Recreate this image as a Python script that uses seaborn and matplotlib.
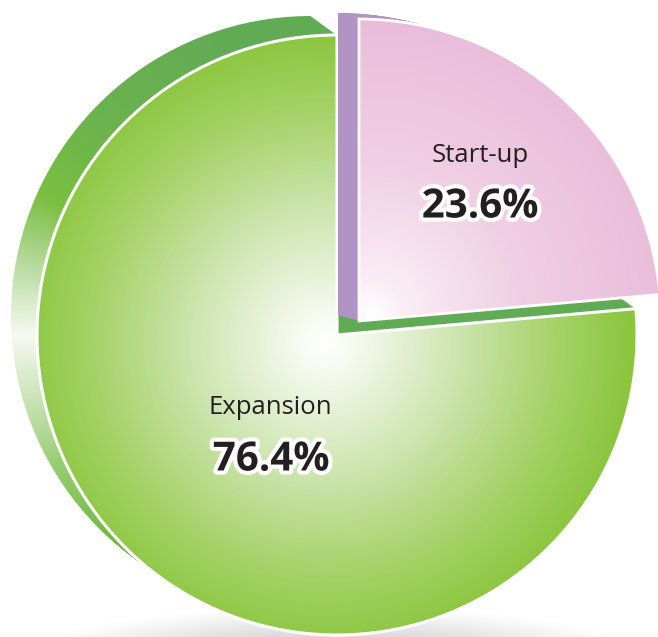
import numpy as np
import matplotlib
matplotlib.use("Agg")
import matplotlib.pyplot as plt
import seaborn as sns
from matplotlib import patheffects as pe

# ---- data ----
categories = ["Start-up", "Expansion"]
shares = [23.6, 76.4]
pct_labels = ["23.6%", "76.4%"]

# ---- style ----
sns.set_theme(style="white")
plt.rcParams['font.family'] = ['Open Sans', 'DejaVu Sans']

W, H = 658, 637
fig = plt.figure(figsize=(W / 100, H / 100), dpi=100)
ax = fig.add_axes([0, 0, 1, 1])
fig.patch.set_facecolor("white")

R = 300          # expansion radius
R_S = 302        # start-up radius
cx, cy = 337, H - 335
start_shift = (22, 14)   # pulled-out start-up slice
green_off = (-26, 19)
purple_off = (-21, 6)
STEPS = 24

xx, yy = np.meshgrid(np.arange(W) + 0.5, np.arange(H) + 0.5)


def interp_rgb(vals, stops, colors):
    c = np.array(colors, float) / 255.0
    return np.stack([np.interp(vals, stops, c[:, k]) for k in range(3)], axis=-1)


def pie_at(center, radius):
    wedges, *_ = ax.pie(shares, startangle=90, counterclock=False, radius=radius,
                        center=center,
                        wedgeprops=dict(linewidth=0, facecolor="none"))
    return wedges


def clipped_image(img, clip, z):
    im = ax.imshow(img, extent=(0, W, 0, H), origin="lower",
                   interpolation="bilinear", zorder=z)
    im.set_clip_path(clip)
    return im


# ---- soft floor shadow ----
sh = np.zeros((H, W, 4))
sh[..., :3] = 0.72
d = ((xx - 335) / 330) ** 2 + ((yy - (H - 665)) / 60) ** 2
sh[..., 3] = np.clip(1 - d, 0, 1) ** 1.4 * 0.75
ax.imshow(sh, extent=(0, W, 0, H), origin="lower", zorder=0.5)

# ---- side (extrusion) of the expansion slice ----
phi = np.degrees(np.arctan2(yy - cy, xx - cx)) % 360
side_img = interp_rgb(
    phi,
    [0, 110, 140, 155, 168, 180, 192, 205, 222, 360],
    [(98, 171, 85), (98, 171, 85), (108, 180, 76), (123, 191, 66),
     (188, 221, 165), (246, 249, 241), (202, 227, 182), (150, 205, 112),
     (112, 185, 68), (112, 185, 68)])

for t in np.linspace(1, 0, STEPS):
    ws = pie_at((cx + green_off[0] * t, cy + green_off[1] * t), R)
    ws[0].remove()
    ws[1].set_zorder(0.9)
    clipped_image(side_img, ws[1], 1)

# ---- expansion face ----
gface = interp_rgb(np.hypot(xx - 325, yy - (H - 342)) / 305,
                   [0, 0.08, 0.45, 0.75, 1.0],
                   [(255, 255, 255), (248, 251, 243), (203, 228, 172),
                    (166, 211, 106), (140, 198, 63)])
ws = pie_at((cx, cy), R)
ws[0].remove()
clipped_image(gface, ws[1], 2)
ws[1].set(edgecolor="white", linewidth=2.2, facecolor="none", zorder=3)

# ---- side of the start-up slice ----
sx, sy = cx + start_shift[0], cy + start_shift[1]
for t in np.linspace(1, 0, STEPS):
    ws = pie_at((sx + purple_off[0] * t, sy + purple_off[1] * t), R_S)
    ws[1].remove()
    ws[0].set(facecolor="#B293C5", linewidth=0, zorder=4)

# ---- start-up face ----
pface = interp_rgb(np.hypot(xx - 372, yy - (H - 312)) / 300,
                   [0, 0.1, 0.5, 1.0],
                   [(255, 255, 255), (250, 238, 245), (240, 207, 228),
                    (233, 188, 218)])
ws = pie_at((sx, sy), R_S)
ws[1].remove()
clipped_image(pface, ws[0], 5)
ws[0].set(edgecolor="white", linewidth=2.0, facecolor="none", zorder=6)

# ---- labels ----
txt_color = "#231F20"
stroke = [pe.withStroke(linewidth=6, foreground="white")]
label_pos = {"Start-up": ((480, 156), (480, 207)),
             "Expansion": ((270, 408), (271, 460))}
for cat, pct in zip(categories, pct_labels):
    (nx, ny), (px, py) = label_pos[cat]
    ax.text(nx, H - ny, cat, ha="center", va="center", fontsize=18.5,
            color=txt_color, zorder=10)
    ax.text(px, H - py, pct, ha="center", va="center", fontsize=29,
            fontweight="bold", color=txt_color, zorder=10, path_effects=stroke)

ax.set_xlim(0, W)
ax.set_ylim(0, H)
ax.set_aspect("equal", adjustable="box")
ax.axis("off")

fig.savefig("out.png", dpi=100, facecolor="white")
